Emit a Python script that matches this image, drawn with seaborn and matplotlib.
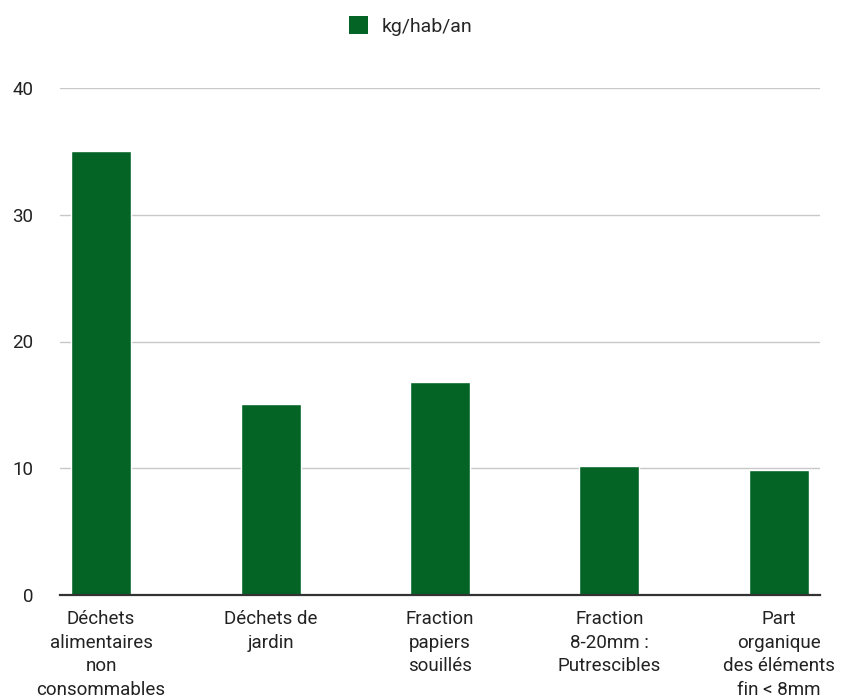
import pandas as pd
import matplotlib.pyplot as plt
import seaborn as sns
from matplotlib.patches import Patch

sns.set_style('white')
plt.rcParams['font.family'] = ['Roboto', 'DejaVu Sans']

# Data
categories = [
    "Déchets\nalimentaires\nnon\nconsommables",
    "Déchets de\njardin",
    "Fraction\npapiers\nsouillés",
    "Fraction\n8-20mm :\nPutrescibles",
    "Part\norganique\ndes éléments\nfin < 8mm",
]
values = [35.0, 15.1, 16.8, 10.2, 9.9]
series_name = "kg/hab/an"
bar_color = "#036426"

df = pd.DataFrame({'category': categories, 'value': values})

fig = plt.figure(figsize=(8.45, 7), dpi=100)
ax = fig.add_axes([60 / 845, 105 / 700, 760 / 845, 507 / 700])

sns.barplot(data=df, x='category', y='value', color=bar_color,
            width=0.354, saturation=1, ax=ax, zorder=3)

ax.set_xlim(-0.242, 4.242)
ax.set_ylim(0, 40)
ax.set_yticks([0, 10, 20, 30, 40])
ax.yaxis.grid(True, color='#c8c8c8', linewidth=1, zorder=0)
ax.set_xlabel("")
ax.set_ylabel("")

for s in ['top', 'right', 'left']:
    ax.spines[s].set_visible(False)
ax.spines['bottom'].set_color('#333333')
ax.spines['bottom'].set_linewidth(1.6)
ax.spines['bottom'].set_zorder(4)

ax.tick_params(axis='y', length=0, labelsize=13.5, pad=19, labelcolor='#222222')
ax.tick_params(axis='x', length=0, labelsize=13.5, pad=11, labelcolor='#222222')
for lbl in ax.get_xticklabels():
    lbl.set_linespacing(1.4)

handle = Patch(facecolor=bar_color, edgecolor='none')
fig.legend([handle], [series_name], loc='center', bbox_to_anchor=(0.486, 0.963),
           frameon=False, fontsize=14, handlelength=1.0, handleheight=1.0,
           handletextpad=0.7)

fig.savefig("out.png", dpi=100)
